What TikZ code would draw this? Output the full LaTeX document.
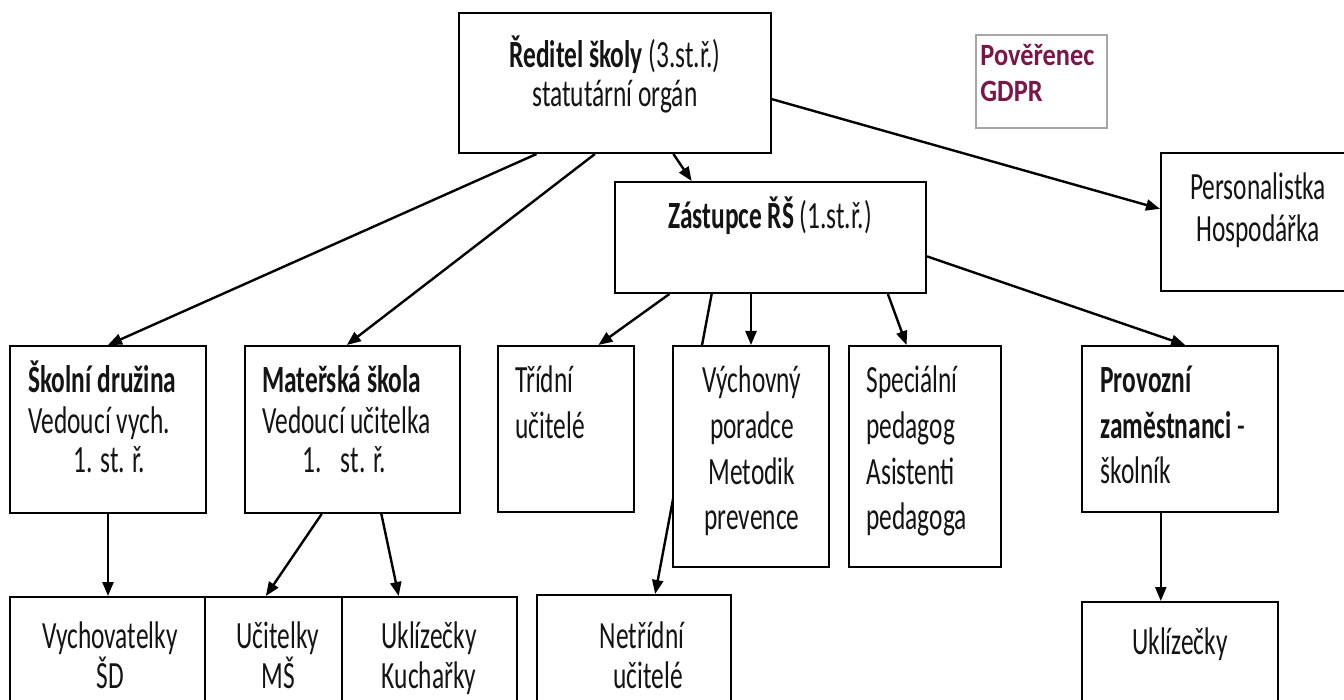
\documentclass[tikz,border=0pt]{standalone}
\usepackage{fontspec}
\setmainfont{Carlito}[FakeStretch=0.66]
\newfontfamily\gdprfont{Carlito}[FakeStretch=0.85]
\usetikzlibrary{arrows.meta,calc,fit}
\pgfdeclarelayer{background}
\pgfsetlayers{background,main}
\definecolor{gdprcol}{RGB}{122,22,72}
\newcommand{\fsz}{\fontsize{19.25}{24}\selectfont}
\newcommand{\gfsz}{\gdprfont\fontsize{15.5}{20}\selectfont\bfseries}
\tikzset{
  box/.style={draw=black, line width=1pt, fill=white, inner sep=0pt},
  gbox/.style={draw=black!35, line width=0.8pt, fill=white, inner sep=0pt},
  txt/.style={inner sep=0pt, font=\fsz, text=black!92},
  gtxt/.style={inner sep=0pt, font=\gfsz, text=gdprcol},
  arr/.style={line width=1.2pt, -{Triangle[length=7pt,width=5.5pt]}},
}
\begin{document}
\begin{tikzpicture}[x=0.5pt,y=-0.5pt]
\useasboundingbox (0,0) rectangle (1344,700);
% boxes
\node[box, fit={(459,13) (771,153)}] (red) {};
\node[box, fit={(615,182) (926,293)}] (zas) {};
\node[gbox, fit={(976,35) (1107,128)}] (gdpr) {};
\node[box, fit={(1161,153) (1356,291)}] (per) {};
\node[box, fit={(10,346) (206,513)}] (sd) {};
\node[box, fit={(245,346) (460,513)}] (ms) {};
\node[box, fit={(498,346) (634,512)}] (tri) {};
\node[box, fit={(673,346) (829,567)}] (vp) {};
\node[box, fit={(849,346) (1001,567)}] (sp) {};
\node[box, fit={(1082,346) (1278,512)}] (pz) {};
\node[box, fit={(10,597) (205,730)}] (vy) {};
\node[box, fit={(205,597) (342,730)}] (uc) {};
\node[box, fit={(342,597) (517,730)}] (uk) {};
\node[box, fit={(537,595) (731,730)}] (ne) {};
\node[box, fit={(1082,602) (1278,730)}] (uk2) {};
% texts
\node[txt, anchor=base] at (615,68) {\textbf{Ředitel školy} (3.st.ř.)};
\node[txt, anchor=base] at (615,107) {statutární orgán};
\node[txt, anchor=base] at (770,229) {\textbf{Zástupce ŘŠ} (1.st.ř.)};
\node[gtxt, anchor=base west] at (980,66) {Pověřenec};
\node[gtxt, anchor=base west] at (980,102) {GDPR};
\node[txt, anchor=base] at (1258,200) {Personalistka};
\node[txt, anchor=base] at (1258,242) {Hospodářka};
\node[txt, anchor=base west] at (28,393) {\textbf{Školní družina}};
\node[txt, anchor=base west] at (28,433) {Vedoucí vych.};
\node[txt, anchor=base west] at (73,472) {1. st. ř.};
\node[txt, anchor=base west] at (262,393) {\textbf{Mateřská škola}};
\node[txt, anchor=base west] at (262,433) {Vedoucí učitelka};
\node[txt, anchor=base west] at (302,472) {1.\hspace{0.5em}st. ř.};
\node[txt, anchor=base west] at (515,393) {Třídní};
\node[txt, anchor=base west] at (515,438) {učitelé};
\node[txt, anchor=base] at (752,393) {Výchovný};
\node[txt, anchor=base] at (752,438) {poradce};
\node[txt, anchor=base] at (752,484) {Metodik};
\node[txt, anchor=base] at (752,529) {prevence};
\node[txt, anchor=base west] at (866,393) {Speciální};
\node[txt, anchor=base west] at (866,438) {pedagog};
\node[txt, anchor=base west] at (866,484) {Asistenti};
\node[txt, anchor=base west] at (866,529) {pedagoga};
\node[txt, anchor=base west] at (1100,393) {\textbf{Provozní}};
\node[txt, anchor=base west] at (1100,438) {\textbf{zaměstnanci} -};
\node[txt, anchor=base west] at (1100,483) {školník};
\node[txt, anchor=base] at (110,648) {Vychovatelky};
\node[txt, anchor=base] at (110,688) {ŠD};
\node[txt, anchor=base] at (278,648) {Učitelky};
\node[txt, anchor=base] at (278,688) {MŠ};
\node[txt, anchor=base] at (429,648) {Uklízečky};
\node[txt, anchor=base] at (429,688) {Kuchařky};
\node[txt, anchor=base] at (642,648) {Netřídní};
\node[txt, anchor=base] at (648,688) {učitelé};
\node[txt, anchor=base] at (1180,654) {Uklízečky};
% connectors
\begin{pgfonlayer}{background}
\fill[white] (0,0) rectangle (1344,700);
\draw[arr] ($(red.south west)!0.25!(red.south east)$) -- (sd.north);
\draw[arr] ($(red.south west)!0.436!(red.south east)$) -- ($(ms.north west)!0.474!(ms.north east)$);
\draw[arr] ($(red.south west)!0.686!(red.south east)$) -- ($(zas.north west)!0.248!(zas.north east)$);
\draw[arr] ($(red.north east)!0.614!(red.south east)$) -- ($(per.north west)!0.406!(per.south west)$);
\draw[arr] ($(zas.south west)!0.177!(zas.south east)$) -- ($(tri.north west)!0.735!(tri.north east)$);
\draw[arr] ($(zas.south west)!0.312!(zas.south east)$) -- ($(ne.north west)!0.608!(ne.north east)$);
\draw[arr] (vp.north |- zas.south) -- (vp.north);
\draw[arr] ($(zas.south west)!0.875!(zas.south east)$) -- ($(sp.north west)!0.38!(sp.north east)$);
\draw[arr] ($(zas.north east)!0.667!(zas.south east)$) -- ($(pz.north west)!0.526!(pz.north east)$);
\draw[arr] (sd.south) -- (sd.south |- vy.north);
\draw[arr] ($(ms.south west)!0.358!(ms.south east)$) -- ($(uc.north west)!0.445!(uc.north east)$);
\draw[arr] ($(ms.south west)!0.633!(ms.south east)$) -- ($(uk.north west)!0.326!(uk.north east)$);
\coordinate (pzs) at ($(pz.south west)!0.403!(pz.south east)$);
\draw[arr] (pzs) -- (pzs |- uk2.north);
\end{pgfonlayer}
\end{tikzpicture}
\end{document}
